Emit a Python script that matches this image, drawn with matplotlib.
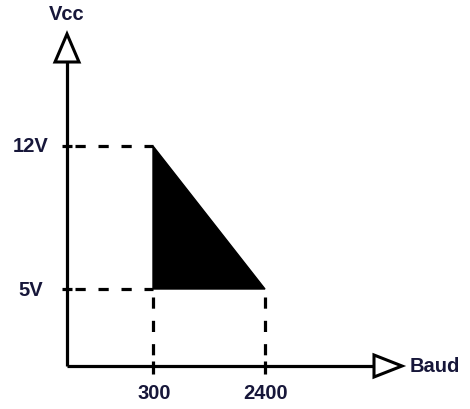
import matplotlib.pyplot as plt
from matplotlib.patches import Polygon

baud = [300, 2400]
vcc = [5, 12]
baud_labels = ["300", "2400"]
vcc_labels = ["5V", "12V"]

# pixel -> data mapping so the schematic lands where the picture has it
px_per_baud = 112 / 2100.0
px_per_volt = 143 / 7.0
x_lo = 300 - 153 / px_per_baud
x_hi = 300 + (470 - 153) / px_per_baud
y_lo = 5 - (410 - 290) / px_per_volt
y_hi = 5 + 290 / px_per_volt

def bx(px):
    return px / px_per_baud
def vy(px):
    return px / px_per_volt

x0 = x_lo + bx(67)          # y-axis position
y0 = y_hi - vy(367)         # x-axis position
txt = '#17173a'
fs = 14.5

plt.rcParams['font.family'] = ['Liberation Sans', 'DejaVu Sans']
fig = plt.figure(figsize=(4.7, 4.1), dpi=100)
ax = fig.add_axes([0, 0, 1, 1])
ax.set_xlim(x_lo, x_hi)
ax.set_ylim(y_lo, y_hi)
ax.axis('off')

lw = 2.3
# axes shafts
ax.plot([x0, x0], [y0, y_hi - vy(63)], color='black', lw=lw, solid_capstyle='butt')
ax.plot([x0, x_lo + bx(373)], [y0, y0], color='black', lw=lw, solid_capstyle='butt')
# hollow arrow heads
ax.add_patch(Polygon([[x0 - bx(12), y_hi - vy(63)], [x0 + bx(12), y_hi - vy(63)],
                      [x0, y_hi - vy(35)]], closed=True, fill=False,
                     edgecolor='black', lw=2.2, joinstyle='miter'))
ax.add_patch(Polygon([[x_lo + bx(374), y0 + vy(11)], [x_lo + bx(374), y0 - vy(11)],
                      [x_lo + bx(402), y0]], closed=True, fill=False,
                     edgecolor='black', lw=2.2, joinstyle='miter'))

# filled region
ax.add_patch(Polygon([[baud[0], vcc[0]], [baud[0], vcc[1]], [baud[1], vcc[0]]],
                     closed=True, facecolor='black', edgecolor='black', lw=1))

# dashed guides
ax.plot([x0 + bx(8), baud[0]], [vcc[1], vcc[1]], color='black', lw=lw,
        dashes=(3.2, 4.0))
ax.plot([x0 + bx(8), baud[0]], [vcc[0], vcc[0]], color='black', lw=lw,
        dashes=(3.2, 4.0))
for b in baud:
    ax.plot([b, b], [vcc[0] - vy(8), y0 + vy(6)], color='black', lw=lw,
            dashes=(3.5, 3.8))
    ax.plot([b, b], [y0 + vy(5), y0 - vy(8)], color='black', lw=lw,
            solid_capstyle='butt')
for v in vcc:
    ax.plot([x0 - bx(5), x0 + bx(5)], [v, v], color='black', lw=lw,
            solid_capstyle='butt')

# labels
for b, s in zip(baud, baud_labels):
    ax.text(b + bx(1), y0 - vy(27), s, ha='center', va='center', fontsize=fs,
            fontweight='bold', color=txt)
for v, s in zip(vcc, vcc_labels):
    ax.text(x_lo + bx(31), v, s, ha='center', va='center', fontsize=fs,
            fontweight='bold', color=txt)
ax.text(x0, y_hi - vy(14), "Vcc", ha='center', va='center', fontsize=fs,
        fontweight='bold', color=txt)
ax.text(x_lo + bx(410), y0, "Baud", ha='left', va='center', fontsize=fs,
        fontweight='bold', color=txt)

fig.savefig('out.png', dpi=100)
